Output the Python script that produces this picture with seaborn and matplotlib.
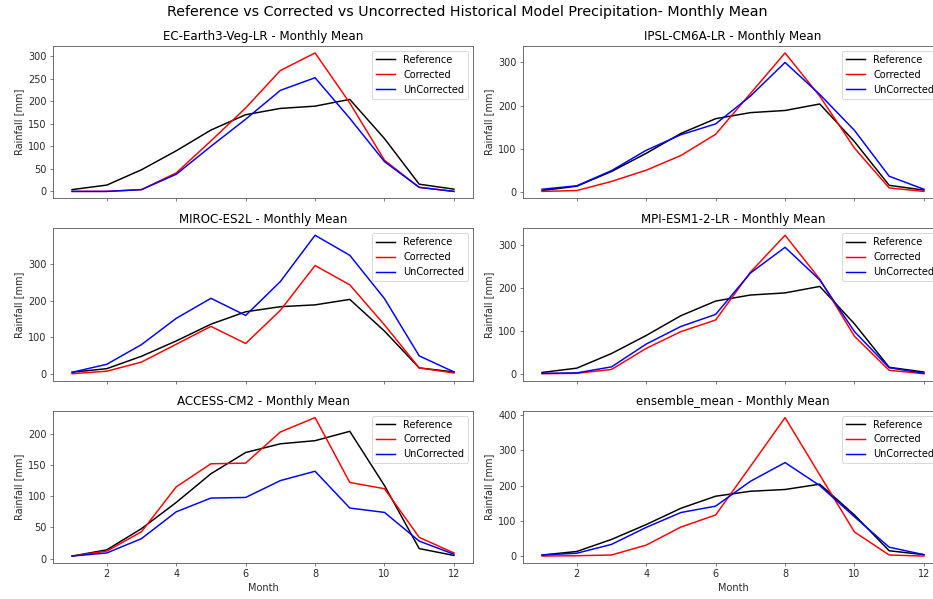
import numpy as np
import pandas as pd
import matplotlib
matplotlib.use("Agg")
import matplotlib.pyplot as plt
import seaborn as sns

months = list(range(1, 13))

reference = [4, 14, 48, 90, 136, 170, 184, 189, 204, 117, 16, 5]

models = ["EC-Earth3-Veg-LR", "IPSL-CM6A-LR", "MIROC-ES2L",
          "MPI-ESM1-2-LR", "ACCESS-CM2", "ensemble_mean"]

ec_earth_corrected = [0, 0, 4, 41, 112, 185, 268, 307, 196, 69, 9, 0]
ec_earth_uncorrected = [0, 0, 4, 38, 100, 160, 224, 252, 162, 66, 9, 0]

ipsl_corrected = [2, 4, 25, 51, 85, 134, 228, 322, 222, 102, 10, 2]
ipsl_uncorrected = [7, 15, 50, 97, 133, 158, 222, 300, 226, 143, 37, 7]

miroc_corrected = [0, 7, 32, 81, 130, 83, 174, 297, 244, 134, 16, 2]
miroc_uncorrected = [4, 26, 80, 152, 207, 160, 253, 380, 325, 206, 49, 5]

mpi_corrected = [1, 2, 11, 60, 99, 126, 237, 323, 221, 88, 9, 1]
mpi_uncorrected = [2, 3, 17, 70, 111, 139, 235, 295, 219, 99, 15, 2]

access_corrected = [4, 12, 43, 115, 152, 153, 203, 226, 122, 112, 34, 9]
access_uncorrected = [4, 9, 32, 75, 97, 98, 125, 140, 81, 74, 28, 7]

ensemble_corrected = [1, 2, 4, 32, 83, 117, 254, 392, 230, 69, 4, 1]
ensemble_uncorrected = [4, 9, 34, 82, 124, 142, 212, 265, 200, 112, 26, 5]

corrected = [ec_earth_corrected, ipsl_corrected, miroc_corrected,
             mpi_corrected, access_corrected, ensemble_corrected]
uncorrected = [ec_earth_uncorrected, ipsl_uncorrected, miroc_uncorrected,
               mpi_uncorrected, access_uncorrected, ensemble_uncorrected]

plt.rcParams.update({
    "font.size": 10.6,
    "axes.titlesize": 12.8,
    "legend.fontsize": 10.6,
    "lines.linewidth": 1.6,
    "axes.linewidth": 0.9,
    "axes.edgecolor": "#555555",
    "xtick.color": "#555555",
    "ytick.color": "#555555",
    "xtick.labelcolor": "#2a2a2a",
    "ytick.labelcolor": "#2a2a2a",
    "axes.labelcolor": "#2a2a2a",
})

DPI = 934 / 14
fig, axes = plt.subplots(3, 2, figsize=(14, 599 / DPI), dpi=DPI, sharex=True)
fig.subplots_adjust(left=53 / 934, right=943 / 934, top=1 - 46 / 599,
                    bottom=1 - 563 / 599, wspace=0.119, hspace=0.197)

for ax, name, corr, uncorr in zip(axes.flat, models, corrected, uncorrected):
    df = pd.DataFrame({"Month": months, "Reference": reference,
                       "Corrected": corr, "UnCorrected": uncorr})
    sns.lineplot(data=df, x="Month", y="Reference", color="black",
                 label="Reference", ax=ax)
    sns.lineplot(data=df, x="Month", y="Corrected", color="red",
                 label="Corrected", ax=ax)
    sns.lineplot(data=df, x="Month", y="UnCorrected", color="blue",
                 label="UnCorrected", ax=ax)
    ax.set_title(f"{name} - Monthly Mean")
    ax.set_ylabel("Rainfall [mm]")
    ax.legend(loc="upper right")
    if ax in axes[-1]:
        ax.set_xlabel("Month")
    else:
        ax.set_xlabel("")

fig.suptitle("Reference vs Corrected vs Uncorrected Historical Model Precipitation- Monthly Mean",
             fontsize=15.4, y=1 - 5 / 599, va="top")

fig.savefig("out.png", dpi=DPI)
